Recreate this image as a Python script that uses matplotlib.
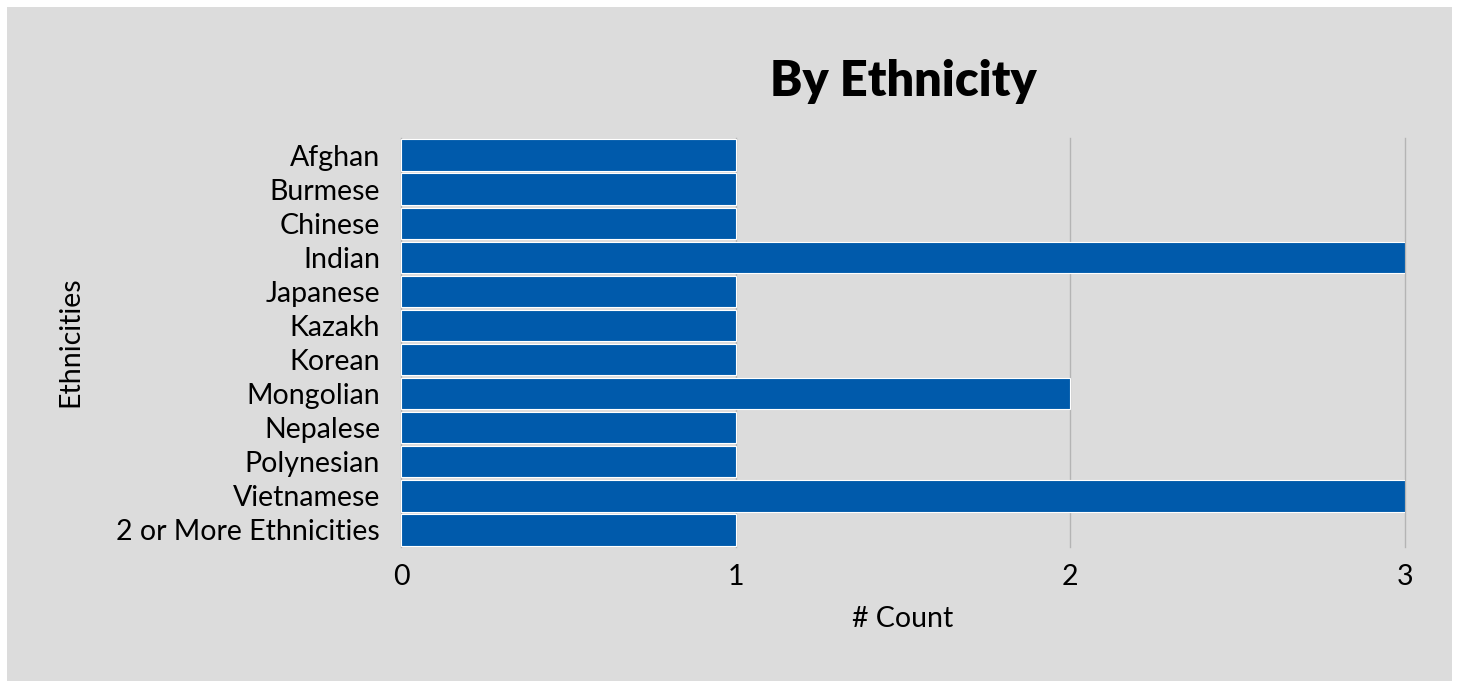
import matplotlib.pyplot as plt
from matplotlib.patches import Rectangle

plt.rcParams['font.family'] = ['Lato', 'DejaVu Sans']

# 数据
ethnicities = ['Afghan', 'Burmese', 'Chinese', 'Indian', 'Japanese', 'Kazakh', 'Korean',
               'Mongolian', 'Nepalese', 'Polynesian', 'Vietnamese', '2 or More Ethnicities']
counts = [1, 1, 1, 3, 1, 1, 1, 2, 1, 1, 3, 1]
xticks = [0, 1, 2, 3]

bg = '#dcdcdc'
fs = 20.5
fig = plt.figure(figsize=(14.59, 6.87), dpi=100, facecolor='white')
# 灰色背景框
fig.patches.append(Rectangle((7 / 1459, 6 / 687), 1 - 14 / 1459, 1 - 13 / 687,
                             transform=fig.transFigure, facecolor=bg, edgecolor='none', zorder=-5))
ax = fig.add_axes([401 / 1459, 1 - 547 / 687, (1405 - 401) / 1459, (547 - 138) / 687])
ax.set_facecolor(bg)

ypos = list(range(len(ethnicities)))
ax.barh(ypos, counts, height=0.92, color='#005aab', edgecolor='white', linewidth=0.8, zorder=3)
ax.set_ylim(len(ethnicities) - 0.5, -0.5)
ax.set_xlim(0, 3)
ax.set_yticks(ypos)
ax.set_yticklabels(ethnicities, fontsize=fs, va='center_baseline')
ax.set_xticks(xticks)
ax.set_xticklabels([str(x) for x in xticks], fontsize=fs)
ax.tick_params(length=0, pad=12)
ax.tick_params(axis='y', pad=15)
ax.grid(axis='x', color='#b4b4b4', linewidth=1, zorder=0)
for gl in ax.xaxis.get_gridlines():
    gl.set_clip_on(False)
for s in ax.spines.values():
    s.set_visible(False)

ax.set_xlabel('# Count', fontsize=fs, labelpad=12)
fig.text(70 / 1459, 1 - 342 / 687, 'Ethnicities', rotation=90, fontsize=fs,
         ha='center', va='center')
fig.text(903 / 1459, 1 - 82 / 687, 'By Ethnicity', fontsize=35, fontweight='heavy',
         ha='center', va='center')

plt.savefig('out.png', dpi=100, facecolor='white')
